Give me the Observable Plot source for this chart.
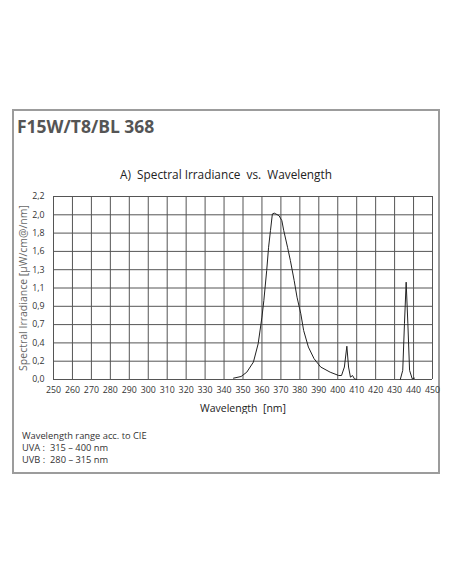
<!DOCTYPE html>
<html>
<head>
<meta charset="utf-8">
<script src="https://cdn.jsdelivr.net/npm/d3@7"></script>
<script src="https://cdn.jsdelivr.net/npm/@observablehq/plot@0.6"></script>
<style>
  html, body { margin: 0; padding: 0; background: #fff; }
  body { width: 452px; height: 584px; position: relative; font-family: "Open Sans", sans-serif; color: #333; }
  #frame { position: absolute; left: 12px; top: 109px; width: 424px; height: 361px; border: 2px solid #9c9c9c; }
  #title { position: absolute; left: 17px; top: 114px; font-size: 17.5px; font-weight: bold; color: #555; }
  #subtitle { position: absolute; left: 0; width: 452px; top: 166px; text-align: center; font-size: 11.8px; color: #222; }
  #chart { position: absolute; left: 0; top: 185px; }
  #notes { position: absolute; left: 22px; top: 430px; font-size: 9.3px; line-height: 12px; color: #333; }
</style>
</head>
<body>
<div id="frame"></div>
<div id="title">F15W/T8/BL 368</div>
<div id="subtitle">A)&nbsp; Spectral Irradiance&nbsp; vs.&nbsp; Wavelength</div>
<div id="chart"></div>
<div id="notes">Wavelength range acc. to CIE<br>UVA :&nbsp; 315 – 400 nm<br>UVB :&nbsp; 280 – 315 nm</div>
<script>
// Spectrum (nm, µW/cm²/nm); null breaks the line
const wavelength = [345, 349, 352, 355.5, 358, 360, 361, 362.5, 363.5, 364.5, 365.5, 366.5, 369, 370.5, 371.5, 373.5, 375, 377, 378.5, 380.5, 382, 384.5, 387.5, 391, 396, 400.5, 402, 403.5, 404.8, 405.7, 406.7, 407.8, 408.8, 410,
  420,
  433, 434.3, 435.2, 436.1, 437, 437.9, 439.3, 440.5];
const irradiance = [0.016, 0.036, 0.088, 0.21, 0.43, 0.75, 0.95, 1.31, 1.59, 1.79, 1.99, 2.0, 1.97, 1.91, 1.79, 1.59, 1.43, 1.19, 0.99, 0.79, 0.59, 0.39, 0.25, 0.15, 0.088, 0.048, 0.048, 0.15, 0.40, 0.15, 0.028, 0.048, 0.008, 0.0,
  null,
  0.0, 0.11, 0.67, 1.17, 0.67, 0.11, 0.008, 0.016];

const xTicks = [250, 260, 270, 280, 290, 300, 310, 320, 330, 340, 350, 360, 370, 380, 390, 400, 410, 420, 430, 440, 450];
const yTicks = [0, 0.22, 0.44, 0.66, 0.88, 1.1, 1.32, 1.54, 1.76, 1.98, 2.2];
const yTickLabels = ["0,0", "0,2", "0,4", "0,7", "0,9", "1,1", "1,3", "1,6", "1,8", "2,0", "2,2"];

const data = wavelength.map((w, i) => ({w, v: irradiance[i]}));
const yLabelOf = new Map(yTicks.map((t, i) => [t, yTickLabels[i]]));

const chart = Plot.plot({
  width: 452,
  height: 229,
  marginLeft: 53,
  marginRight: 20,
  marginTop: 11,
  marginBottom: 35,
  style: {fontFamily: "Open Sans, sans-serif", fontSize: "8.8px", color: "#333", background: "transparent"},
  x: {domain: [250, 450], ticks: xTicks, tickSize: 0, tickPadding: 7, label: "Wavelength  [nm]", labelAnchor: "center", labelArrow: "none", labelOffset: 32},
  y: {domain: [0, 2.2], ticks: yTicks, tickSize: 0, tickPadding: 9, tickFormat: d => yLabelOf.get(d), label: "Spectral Irradiance [µW/cm@/nm]", labelAnchor: "center", labelArrow: "none", labelOffset: 34},
  marks: [
    Plot.gridX(xTicks, {stroke: "#555", strokeOpacity: 1, strokeWidth: 1}),
    Plot.gridY(yTicks, {stroke: "#555", strokeOpacity: 1, strokeWidth: 1}),
    Plot.line(data, {x: "w", y: "v", stroke: "#222", strokeWidth: 1, curve: "linear"})
  ]
});
chart.querySelectorAll("[aria-label='x-axis label'] text").forEach(t => { t.style.fontSize = "10.5px"; t.setAttribute("fill", "#222"); });
chart.querySelectorAll("[aria-label='y-axis label'] text").forEach(t => { t.style.fontSize = "10.5px"; t.setAttribute("fill", "#666"); });
document.getElementById("chart").appendChild(chart);
</script>
</body>
</html>
